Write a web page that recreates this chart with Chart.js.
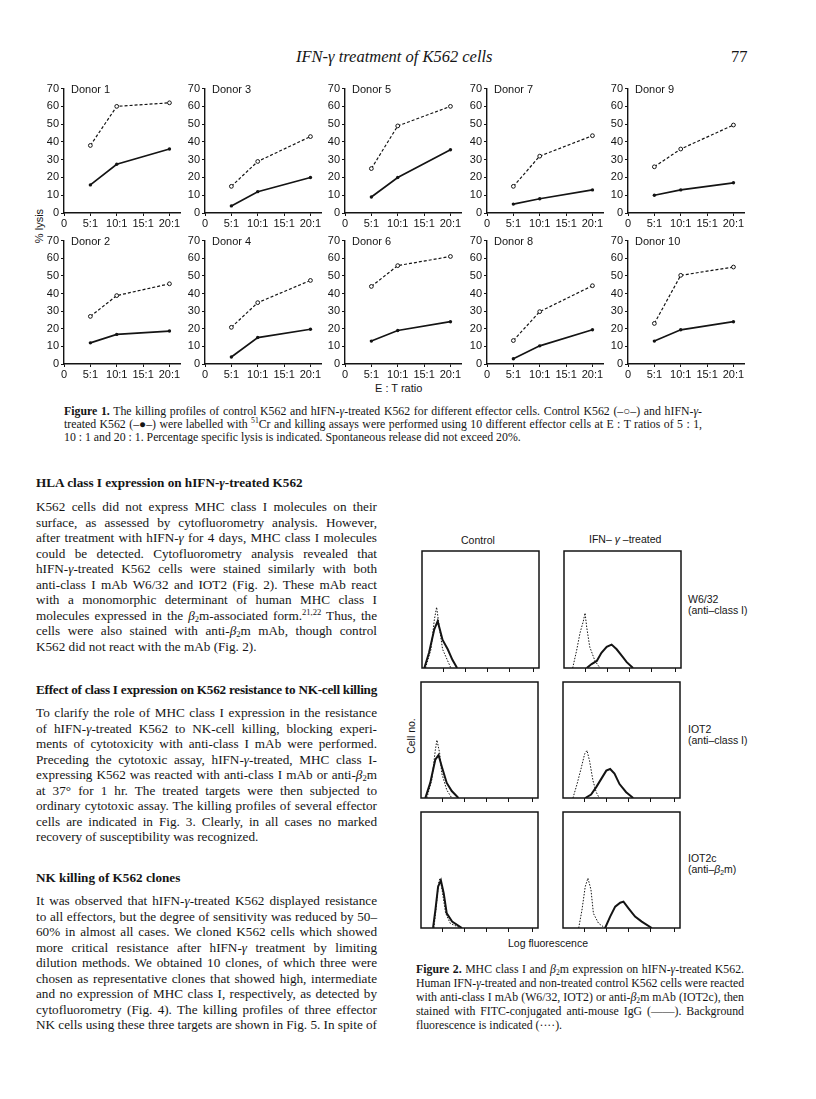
<!DOCTYPE html>
<html>
<head>
<meta charset="utf-8">
<script src="https://cdn.jsdelivr.net/npm/chart.js@4.4.1/dist/chart.umd.min.js"></script>
<style>
  body { margin: 0; background: #fff; }
  #page { position: relative; width: 816px; height: 1099px; overflow: hidden; background: #fff; color: #151515; }
  .abs { position: absolute; }
  canvas.fig { position: absolute; }
  .serif { font-family: "Liberation Serif", "Times New Roman", serif; }
  .sans { font-family: "Liberation Sans", Arial, sans-serif; }
  .ln { height: 15.5px; line-height: 15.5px; white-space: nowrap; }
  .cap .ln { height: 13px; line-height: 13px; }
  .cap2 .ln { height: 14px; line-height: 14px; }
  .body { font-size: 13.2px; width: 341px; left: 36px; }
  .head { font-size: 13.2px; font-weight: bold; left: 36px; white-space: nowrap; }
  .cap, .cap2 { font-size: 11.8px; }
  i.g { font-style: italic; }
  sup { font-size: 0.65em; line-height: 0; vertical-align: 0.6em; }
  sub { font-size: 0.65em; line-height: 0; vertical-align: -0.25em; }
  .lab { font-size: 10.5px; white-space: nowrap; }
</style>
</head>
<body>
<div id="page">
  <div class="abs serif" style="left:296px; top:47px; font-size:16.5px; font-style:italic;">IFN-γ treatment of K562 cells</div>
  <div class="abs serif" style="left:731px; top:47px; font-size:16.5px;">77</div>

  <div class="abs sans lab" style="left:17px; top:220px; font-size:11px; transform:rotate(-90deg); transform-origin:center; width:44px; text-align:center;">% lysis</div>
  <div class="abs sans lab" style="left:375px; top:382px; font-size:11px;">E : T ratio</div>

  <div class="abs serif cap" style="left:64px; top:405px; width:638px;">
    <div class="ln j"><span><b>Figure 1.</b> The killing profiles of control K562 and hIFN-<i class="g">γ</i>-treated K562 for different effector cells. Control K562 (–○–) and hIFN-<i class="g">γ</i>-</span></div>
    <div class="ln j"><span>treated K562 (–●–) were labelled with <sup>51</sup>Cr and killing assays were performed using 10 different effector cells at E : T ratios of 5 : 1,</span></div>
    <div class="ln"><span>10 : 1 and 20 : 1. Percentage specific lysis is indicated. Spontaneous release did not exceed 20%.</span></div>
  </div>

  <div class="abs serif head" style="top:475px;">HLA class I expression on hIFN-<i class="g">γ</i>-treated K562</div>
  <div class="abs serif body" style="top:499px;">
    <div class="ln j"><span>K562 cells did not express MHC class I molecules on their</span></div>
    <div class="ln j"><span>surface, as assessed by cytofluorometry analysis. However,</span></div>
    <div class="ln j"><span>after treatment with hIFN-<i class="g">γ</i> for 4 days, MHC class I molecules</span></div>
    <div class="ln j"><span>could be detected. Cytofluorometry analysis revealed that</span></div>
    <div class="ln j"><span>hIFN-<i class="g">γ</i>-treated K562 cells were stained similarly with both</span></div>
    <div class="ln j"><span>anti-class I mAb W6/32 and IOT2 (Fig. 2). These mAb react</span></div>
    <div class="ln j"><span>with a monomorphic determinant of human MHC class I</span></div>
    <div class="ln j"><span>molecules expressed in the <i class="g">β</i><sub>2</sub>m-associated form.<sup>21,22</sup> Thus, the</span></div>
    <div class="ln j"><span>cells were also stained with anti-<i class="g">β</i><sub>2</sub>m mAb, though control</span></div>
    <div class="ln"><span>K562 did not react with the mAb (Fig. 2).</span></div>
  </div>

  <div class="abs serif head" style="top:682px; width:341px;">
    <div class="ln j"><span>Effect of class I expression on K562 resistance to NK-cell killing</span></div>
  </div>
  <div class="abs serif body" style="top:705px;">
    <div class="ln j"><span>To clarify the role of MHC class I expression in the resistance</span></div>
    <div class="ln j"><span>of hIFN-<i class="g">γ</i>-treated K562 to NK-cell killing, blocking experi-</span></div>
    <div class="ln j"><span>ments of cytotoxicity with anti-class I mAb were performed.</span></div>
    <div class="ln j"><span>Preceding the cytotoxic assay, hIFN-<i class="g">γ</i>-treated, MHC class I-</span></div>
    <div class="ln j"><span>expressing K562 was reacted with anti-class I mAb or anti-<i class="g">β</i><sub>2</sub>m</span></div>
    <div class="ln j"><span>at 37° for 1 hr. The treated targets were then subjected to</span></div>
    <div class="ln j"><span>ordinary cytotoxic assay. The killing profiles of several effector</span></div>
    <div class="ln j"><span>cells are indicated in Fig. 3. Clearly, in all cases no marked</span></div>
    <div class="ln"><span>recovery of susceptibility was recognized.</span></div>
  </div>

  <div class="abs serif head" style="top:870px;">NK killing of K562 clones</div>
  <div class="abs serif body" style="top:893px;">
    <div class="ln j"><span>It was observed that hIFN-<i class="g">γ</i>-treated K562 displayed resistance</span></div>
    <div class="ln j"><span>to all effectors, but the degree of sensitivity was reduced by 50–</span></div>
    <div class="ln j"><span>60% in almost all cases. We cloned K562 cells which showed</span></div>
    <div class="ln j"><span>more critical resistance after hIFN-<i class="g">γ</i> treatment by limiting</span></div>
    <div class="ln j"><span>dilution methods. We obtained 10 clones, of which three were</span></div>
    <div class="ln j"><span>chosen as representative clones that showed high, intermediate</span></div>
    <div class="ln j"><span>and no expression of MHC class I, respectively, as detected by</span></div>
    <div class="ln j"><span>cytofluorometry (Fig. 4). The killing profiles of three effector</span></div>
    <div class="ln j"><span>NK cells using these three targets are shown in Fig. 5. In spite of</span></div>
  </div>

  <div class="abs sans lab" style="left:461px; top:534px;">Control</div>
  <div class="abs sans lab" style="left:589px; top:533px;">IFN– <i>γ</i> –treated</div>
  <div class="abs sans lab" style="left:688px; top:594px; line-height:11px;">W6/32<br>(anti–class I)</div>
  <div class="abs sans lab" style="left:688px; top:724px; line-height:11px;">IOT2<br>(anti–class I)</div>
  <div class="abs sans lab" style="left:688px; top:853px; line-height:11px;">IOT2c<br>(anti–<i>β</i><sub>2</sub>m)</div>
  <div class="abs sans lab" style="left:386px; top:730px; transform:rotate(-90deg); width:50px; text-align:center;">Cell no.</div>
  <div class="abs sans lab" style="left:508px; top:937px;">Log fluorescence</div>

  <div class="abs serif cap2" style="left:416px; top:962px; width:328px;">
    <div class="ln j"><span><b>Figure 2.</b> MHC class I and <i class="g">β</i><sub>2</sub>m expression on hIFN-<i class="g">γ</i>-treated K562.</span></div>
    <div class="ln j"><span>Human IFN-<i class="g">γ</i>-treated and non-treated control K562 cells were reacted</span></div>
    <div class="ln j"><span>with anti-class I mAb (W6/32, IOT2) or anti-<i class="g">β</i><sub>2</sub>m mAb (IOT2c), then</span></div>
    <div class="ln j"><span>stained with FITC-conjugated anti-mouse IgG (——). Background</span></div>
    <div class="ln"><span>fluorescence is indicated (····).</span></div>
  </div>
</div>

<script>
// Figure 1: % lysis per donor, E:T ratios 5:1, 10:1, 20:1
const donorIds = [1, 3, 5, 7, 9, 2, 4, 6, 8, 10];
const etRatios = [5, 10, 20];
const xTickValues = [0, 5, 10, 15, 20];
const xTickLabels = ['0', '5:1', '10:1', '15:1', '20:1'];
const yTickValues = [0, 10, 20, 30, 40, 50, 60, 70];

// control K562 (open circles, dashed)
const controlLysis = [
    [38, 60, 62],
    [15, 29, 43],
    [25, 49, 60],
    [15, 32, 43.5],
    [26, 36, 49.5],
    [27, 38.8, 45.5],
    [20.8, 34.8, 47.4],
    [44, 55.8, 61],
    [13.3, 29.7, 44.4],
    [23, 50.3, 55]
];

// hIFN-gamma treated K562 (filled dots, solid)
const treatedLysis = [
    [15.8, 27.4, 36],
    [4, 12, 20],
    [9, 20, 35.6],
    [5, 8, 13],
    [10, 13, 17],
    [12, 16.8, 18.7],
    [4, 15, 19.7],
    [13, 19, 24],
    [3, 10.3, 19.4],
    [13, 19.4, 24]
];

// Figure 2: histogram outlines, [channel %, cell count %]
const histTicks = [18, 37, 56, 75, 95.5];
const ctrlW632Bg = [[3,0],[7.7,16],[10.5,41],[12.5,52],[14.8,35],[17.6,16],[22,6],[24.7,0]];
const ctrlW632Fl = [[2,0],[6,13],[10.5,33],[13.4,40],[17.6,24],[22,16],[26,7],[30,0]];
const ifnW632Bg = [[7.4,0],[10.8,15],[13.7,30],[16.5,40],[18,47],[19.4,35],[22,18],[26.5,6],[30.8,0]];
const ifnW632Fl = [[19.4,0],[23.6,3.4],[28,6],[32,13],[36.5,18],[40.7,20],[45,16],[49.3,10.5],[53.6,5],[59,0]];
const ctrlIot2Bg = [[5,0],[9.3,16],[12.2,41],[13.6,50],[15.9,39],[17.8,21],[22,7],[26.3,0]];
const ctrlIot2Fl = [[3.7,0],[7.9,13],[12.2,33],[15,37],[17.8,27],[22,13],[26.3,6],[32,0]];
const ifnIot2Bg = [[8.5,0],[12,12],[15.6,26],[18.5,38],[20.5,41],[22.7,32],[25.6,15],[28.4,5],[31,0]];
const ifnIot2Fl = [[19,0],[24,3],[28.4,9.4],[32.7,16.5],[37,23.6],[40.3,25],[44,21],[48.3,12],[54,5],[60,0]];
const ctrlIot2cBg = [[11,0],[13,18],[15,39],[16.3,43],[18,33],[21,13],[25,4],[33.7,0]];
const ctrlIot2cFl = [[10.3,0],[12.3,15.5],[14.6,35.6],[17,41],[19.4,30],[22,12.6],[26.6,5.5],[35,0]];
const ifnIot2cBg = [[13.4,0],[16.2,15.5],[19,35.6],[21.3,43],[23.9,33],[26,12.6],[30.4,4],[36,0]];
const ifnIot2cFl = [[36,0],[40.3,9.8],[44.6,18.4],[48.9,21.8],[51.7,22.7],[56,17],[61.6,9.8],[67.3,5.5],[75.9,0]];

const ink = '#141414';
const sansFont = '"Liberation Sans", Arial, sans-serif';

// layout of the small panels
const axisLeft = [64, 205, 345, 487, 628];
const rowTop = [88, 240];
const rowHeight = [125, 124];
const plotWidth = 116;

const donorLabel = {
    id: 'donorLabel',
    afterDraw(chart, args, opts) {
        const { ctx, chartArea } = chart;
        ctx.save();
        ctx.fillStyle = ink;
        ctx.font = '11px ' + sansFont;
        ctx.textBaseline = 'middle';
        ctx.fillText(opts.text, chartArea.left + 7, chartArea.top + 1);
        ctx.restore();
    }
};

const frame = {
    id: 'frame',
    afterDraw(chart) {
        const { ctx, chartArea } = chart;
        ctx.save();
        ctx.strokeStyle = ink;
        ctx.lineWidth = 1.5;
        ctx.strokeRect(chartArea.left, chartArea.top, chartArea.right - chartArea.left, chartArea.bottom - chartArea.top);
        ctx.restore();
    }
};

const page = document.getElementById('page');

function novoCanvas(left, top, width, height) {
    const c = document.createElement('canvas');
    c.className = 'fig';
    c.width = width;
    c.height = height;
    c.style.left = left + 'px';
    c.style.top = top + 'px';
    page.appendChild(c);
    return c;
}

function gerarDoador(i) {
    const col = i % 5;
    const row = Math.floor(i / 5);
    const h = rowHeight[row];
    const canvas = novoCanvas(axisLeft[col] - 30, rowTop[row] - 8, plotWidth + 36, h + 27);

    new Chart(canvas.getContext('2d'), {
        type: 'line',
        data: {
            datasets: [
                {
                    data: etRatios.map((x, k) => ({ x, y: controlLysis[i][k] })),
                    borderColor: ink,
                    borderWidth: 1.2,
                    borderDash: [3, 2],
                    pointRadius: 1.9,
                    pointBackgroundColor: '#fff',
                    pointBorderColor: ink,
                    pointBorderWidth: 1
                },
                {
                    data: etRatios.map((x, k) => ({ x, y: treatedLysis[i][k] })),
                    borderColor: ink,
                    borderWidth: 1.7,
                    pointRadius: 1.7,
                    pointBackgroundColor: ink,
                    pointBorderColor: ink,
                    pointBorderWidth: 0
                }
            ]
        },
        options: {
            responsive: false,
            animation: false,
            events: [],
            layout: { padding: { top: 8, right: 6, left: 2, bottom: 2 } },
            plugins: {
                legend: { display: false },
                tooltip: { enabled: false },
                donorLabel: { text: 'Donor ' + donorIds[i] }
            },
            scales: {
                x: {
                    type: 'linear',
                    min: 0,
                    max: 22,
                    afterBuildTicks: s => { s.ticks = xTickValues.map(v => ({ value: v })); },
                    afterFit: s => { s.height = 17; },
                    ticks: {
                        callback: v => xTickLabels[xTickValues.indexOf(v)],
                        font: { size: 11, family: sansFont },
                        color: ink,
                        padding: 1,
                        maxRotation: 0,
                        autoSkip: false
                    },
                    grid: { drawOnChartArea: false, tickLength: 3, color: ink },
                    border: { color: ink, width: 1.4 }
                },
                y: {
                    min: 0,
                    max: 70,
                    afterBuildTicks: s => { s.ticks = yTickValues.map(v => ({ value: v })); },
                    afterFit: s => { s.width = 28; },
                    ticks: {
                        font: { size: 11, family: sansFont },
                        color: ink,
                        padding: 2
                    },
                    grid: { drawOnChartArea: false, tickLength: 3, color: ink },
                    border: { color: ink, width: 1.4 }
                }
            }
        },
        plugins: [donorLabel]
    });
}

function gerarHistograma(left, top, w, h, fundo, marcado) {
    const canvas = novoCanvas(left - 2, top - 2, w + 4, h + 9);
    const pontos = arr => arr.map(([x, y]) => ({ x, y }));
    new Chart(canvas.getContext('2d'), {
        type: 'line',
        data: {
            datasets: [
                { data: pontos(fundo), borderColor: ink, borderWidth: 1, borderDash: [1.5, 1.5], pointRadius: 0 },
                { data: pontos(marcado), borderColor: ink, borderWidth: 2, pointRadius: 0 }
            ]
        },
        options: {
            responsive: false,
            animation: false,
            events: [],
            layout: { padding: 2 },
            plugins: { legend: { display: false }, tooltip: { enabled: false } },
            scales: {
                x: {
                    type: 'linear',
                    min: 0,
                    max: 100,
                    afterBuildTicks: s => { s.ticks = histTicks.map(v => ({ value: v })); },
                    afterFit: s => { s.height = 5; },
                    ticks: { callback: () => '' },
                    grid: { drawOnChartArea: false, tickLength: 4, color: ink },
                    border: { display: false }
                },
                y: { display: false, min: 0, max: 100 }
            }
        },
        plugins: [frame]
    });
}

// justifica cada linha: espaco extra nas palavras, ou aperta as letras se nao couber
function ajustarLinhas() {
    document.querySelectorAll('.ln.j').forEach(el => {
        const span = el.firstElementChild;
        const natural = span.getBoundingClientRect().width;
        const alvo = el.getBoundingClientRect().width;
        const sobra = alvo - natural;
        const texto = span.textContent;
        const espacos = (texto.match(/ /g) || []).length;
        if (sobra >= 0) {
            if (espacos) span.style.wordSpacing = (sobra / espacos) + 'px';
        } else {
            span.style.letterSpacing = (sobra / texto.length) + 'px';
        }
    });
}

donorIds.forEach((d, i) => gerarDoador(i));

gerarHistograma(422, 551, 117, 117, ctrlW632Bg, ctrlW632Fl);
gerarHistograma(564, 551, 117, 117, ifnW632Bg, ifnW632Fl);
gerarHistograma(421, 682, 117, 116, ctrlIot2Bg, ctrlIot2Fl);
gerarHistograma(563, 682, 117, 116, ifnIot2Bg, ifnIot2Fl);
gerarHistograma(421, 812, 117, 116, ctrlIot2cBg, ctrlIot2cFl);
gerarHistograma(563, 812, 117, 116, ifnIot2cBg, ifnIot2cFl);

ajustarLinhas();
</script>
</body>
</html>
